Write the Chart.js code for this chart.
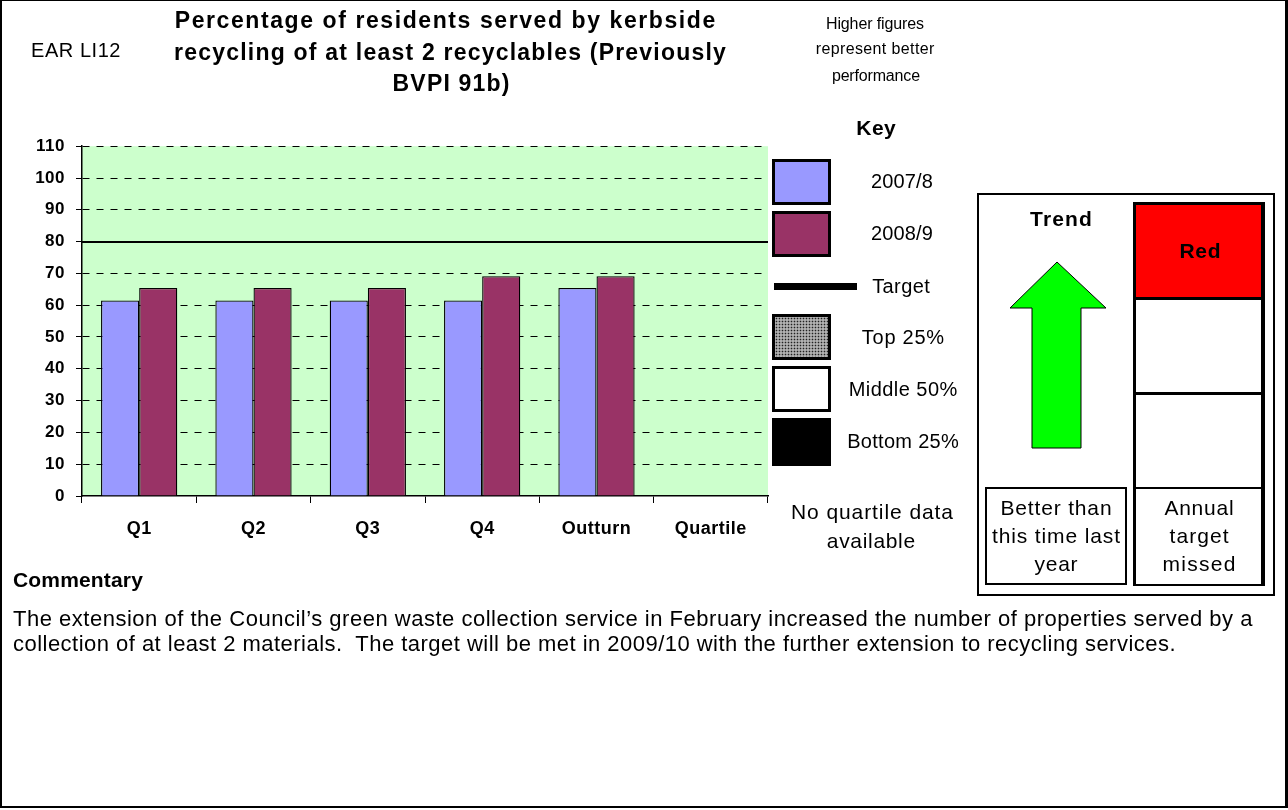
<!DOCTYPE html>
<html><head><meta charset="utf-8">
<script src="https://cdn.jsdelivr.net/npm/chart.js@4"></script>
<style>
html,body{margin:0;padding:0;background:#fff;}
body{width:1288px;height:810px;position:relative;overflow:hidden;font-family:"Liberation Sans",Arial,sans-serif;color:#000;}
#frame{position:absolute;left:0;top:0;width:1283px;height:805px;border:2px solid #000;border-top:1px solid #000;border-right:3px solid #000;box-sizing:content-box;}
.t{position:absolute;white-space:nowrap;z-index:5;}
#chartBox{position:absolute;left:0;top:125px;width:775px;height:425px;}
.kb{position:absolute;left:772px;width:53px;height:40px;border:3px solid #000;}
.box{position:absolute;border:2px solid #000;box-sizing:border-box;}
</style></head>
<body>
<div id="frame"></div>

<div id="chartBox"><canvas id="c"></canvas></div>

<div class="kb" style="top:159px;background:#9999FF;"></div>
<div class="kb" style="top:211px;background:#993366;"></div>
<div style="position:absolute;left:774px;top:283px;width:83px;height:7px;background:#000;"></div>
<div class="kb" style="top:314px;background-color:#b0b0b0;background-image:radial-gradient(#222 0.7px,transparent 1.1px);background-size:3px 3px;"></div>
<div class="kb" style="top:366px;background:#fff;"></div>
<div class="kb" style="top:418px;background:#000;border-width:2px;width:55px;height:44px;"></div>

<div class="box" style="left:977px;top:193px;width:298px;height:403px;border-width:2px;"></div>
<svg style="position:absolute;left:0;top:0;" width="1288" height="810">
<polygon points="1057,262 1106,308 1081,308 1081,448 1032,448 1032,308 1010,308" fill="#00FF00" stroke="#000" stroke-width="1"/>
</svg>
<div class="box" style="left:1133px;top:202px;width:132px;height:98px;background:#FF0000;border-width:3px 4px 2px 3px;"></div>
<div class="box" style="left:1133px;top:297px;width:132px;height:97px;border-width:2px 4px 2px 3px;"></div>
<div class="box" style="left:1133px;top:392px;width:132px;height:97px;border-width:3px 4px 2px 3px;"></div>
<div class="box" style="left:1133px;top:487px;width:132px;height:99px;border-width:2px 4px 2px 3px;"></div>
<div class="box" style="left:985px;top:487px;width:142px;height:98px;border-width:2px;"></div>

<div id="texts"></div>

<script>
const categories = ["Q1","Q2","Q3","Q4","Outturn","Quartile"];
const series2007 = [61.5, 61.5, 61.5, 61.5, 65.4, null];
const series2008 = [65.4, 65.4, 65.4, 69.1, 69.1, null];
const targetValue = [80];
const yTicks = [0,10,20,30,40,50,60,70,80,90,100,110];

// text layout: [text, x, cy, size, bold, width, align]
const texts = [
  ["EAR LI12", 31, 50, 20, false, 90, "left"],
  ["Percentage of residents served by kerbside", 445, 20, 23, true, 542, "center"],
  ["recycling of at least 2 recyclables (Previously", 450, 52, 23, true, 553, "center"],
  ["BVPI 91b)", 451, 83, 23, true, 118, "center"],
  ["Higher figures", 875, 24, 16, false, 98, "center"],
  ["represent better", 875, 49, 16, false, 119, "center"],
  ["performance", 876, 76, 16, false, 88, "center"],
  ["Key", 876, 128, 21, true, 40, "center"],
  ["2007/8", 902, 181, 20, false, 62, "center"],
  ["2008/9", 902, 233, 20, false, 62, "center"],
  ["Target", 901, 286, 20, false, 58, "center"],
  ["Top 25%", 903, 337, 20, false, 83, "center"],
  ["Middle 50%", 903, 389, 20, false, 109, "center"],
  ["Bottom 25%", 903, 441, 20, false, 112, "center"],
  ["No quartile data", 872, 512, 21, false, 163, "center"],
  ["available", 871, 541, 21, false, 89, "center"],
  ["Trend", 1061, 219, 21, true, 63, "center"],
  ["Red", 1200, 251, 21, true, 42, "center"],
  ["Better than", 1056, 508, 21, false, 112, "center"],
  ["this time last", 1056, 536, 21, false, 129, "center"],
  ["year", 1056, 564, 21, false, 44, "center"],
  ["Annual", 1199, 508, 21, false, 70, "center"],
  ["target", 1199, 536, 21, false, 60, "center"],
  ["missed", 1199, 564, 21, false, 74, "center"],
  ["Commentary", 13, 580, 21, true, 130, "left"],
  ["The extension of the Council’s green waste collection service in February increased the number of properties served by a", 13, 618, 22, false, 1240, "left"],
  ["collection of at least 2 materials.  The target will be met in 2009/10 with the further extension to recycling services.", 13, 643, 22, false, 1163, "left"]
];
const holder = document.getElementById('texts');
texts.forEach(([s,x,cy,size,bold,w,align])=>{
  const d = document.createElement('div');
  d.className='t';
  d.style.fontSize=size+'px';
  d.style.fontWeight=bold?'bold':'normal';
  d.style.lineHeight=(size*1.15)+'px';
  d.style.whiteSpace='pre';
  d.textContent=s;
  holder.appendChild(d);
  const nat = d.getBoundingClientRect().width;
  const ls = (w - nat)/(s.length);
  d.style.letterSpacing = ls+'px';
  const real = d.getBoundingClientRect().width;
  d.style.top=(cy-0.56*size)+'px';
  if(align==='center') d.style.left=(x - (real-ls)/2)+'px';
  else d.style.left=x+'px';
});

const bgPlugin = {
  id:'bg',
  beforeDraw(chart){
    const {ctx, chartArea:a} = chart;
    ctx.letterSpacing='0.5px';
    ctx.save(); ctx.fillStyle='#CCFFCC';
    ctx.fillRect(a.left, a.top, a.right-a.left, a.bottom-a.top);
    ctx.restore();
  },
  beforeDatasetsDraw(chart){
    const {ctx, chartArea:a, scales:{y}} = chart;
    const py = Math.round(y.getPixelForValue(targetValue[0]));
    ctx.save(); ctx.strokeStyle='#000'; ctx.lineWidth=2;
    ctx.beginPath(); ctx.moveTo(a.left, py); ctx.lineTo(a.right, py); ctx.stroke();
    ctx.restore();
  }
};

new Chart(document.getElementById('c'), {
  type:'bar',
  data:{labels:categories, datasets:[
    {label:'2007/8', data:series2007, backgroundColor:'#9999FF', borderColor:'#000', borderWidth:1.3},
    {label:'2008/9', data:series2008, backgroundColor:'#993366', borderColor:'#000', borderWidth:1.3}
  ]},
  options:{
    responsive:true, maintainAspectRatio:false, animation:false,
    layout:{padding:{top:0,right:7,left:0,bottom:0}},
    categoryPercentage:0.667, barPercentage:1.0,
    plugins:{legend:{display:false}, tooltip:{enabled:false}},
    scales:{
      x:{
        afterFit(s){ s.height = 54; },
        grid:{display:true, drawOnChartArea:false, drawTicks:true, tickLength:7, color:'#000', offset:true},
        border:{display:true, color:'#000', width:1.5},
        ticks:{color:'#000', font:{family:'Liberation Sans', size:18, weight:'bold'}, padding:15, maxRotation:0, autoSkip:false}
      },
      y:{
        min:0, max:110,
        afterFit(s){ s.width = 82; },
        afterBuildTicks(s){ s.ticks = yTicks.map(v=>({value:v})); },
        grid:{color:(c)=> (c.tick && c.tick.value===0) ? 'rgba(0,0,0,0)' : '#000', lineWidth:1, tickLength:6, drawTicks:true, tickColor:'#000'},
        border:{display:true, color:'#000', width:1.5, dash:[7,7]},
        ticks:{color:'#000', font:{family:'Liberation Sans', size:17, weight:'bold'}, padding:11}
      }
    }
  },
  plugins:[bgPlugin]
});
</script>
</body></html>
